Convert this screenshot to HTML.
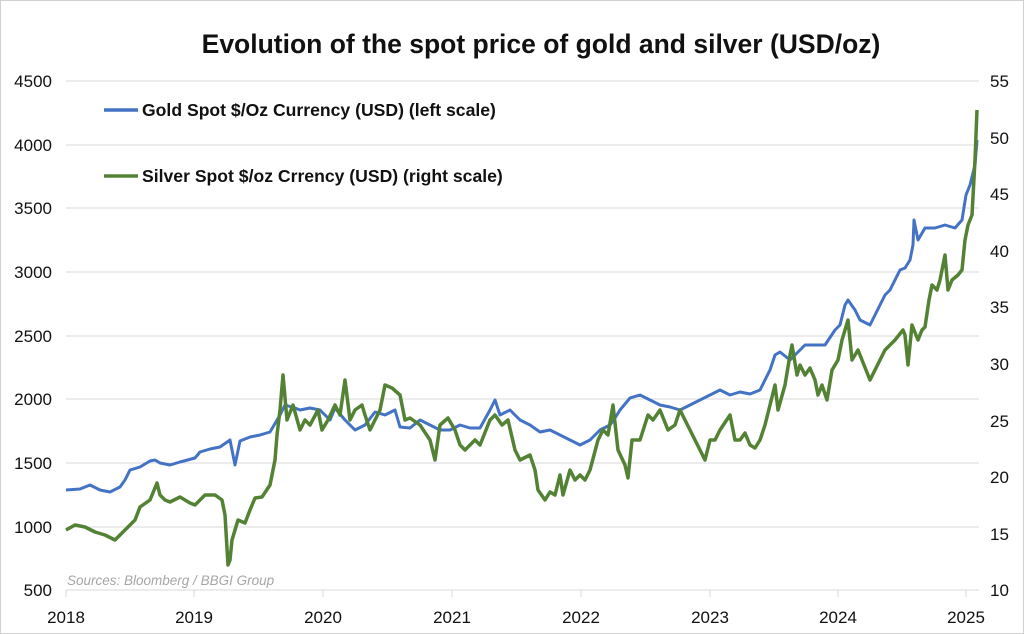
<!DOCTYPE html>
<html><head><meta charset="utf-8"><style>
html,body{margin:0;padding:0;background:#fff}
svg{display:block}
text{font-family:"Liberation Sans",sans-serif;fill:#111}
</style></head><body>
<svg width="1024" height="634" viewBox="0 0 1024 634">
<rect x="0.5" y="0.5" width="1023" height="633" fill="#fff" stroke="#d0d0d0"/>
<text x="541" y="53" font-size="26.5" font-weight="bold" text-anchor="middle">Evolution of the spot price of gold and silver (USD/oz)</text>
<g stroke="#d9d9d9" stroke-width="1">
<line x1="66" x2="979" y1="81" y2="81"/><line x1="66" x2="979" y1="145" y2="145"/>
<line x1="66" x2="979" y1="208" y2="208"/><line x1="66" x2="979" y1="272" y2="272"/>
<line x1="66" x2="979" y1="336" y2="336"/><line x1="66" x2="979" y1="399" y2="399"/>
<line x1="66" x2="979" y1="463" y2="463"/><line x1="66" x2="979" y1="527" y2="527"/>
<line x1="66" x2="979" y1="590" y2="590"/>
<line x1="66" x2="66" y1="590" y2="597"/><line x1="194" x2="194" y1="590" y2="597"/>
<line x1="323" x2="323" y1="590" y2="597"/><line x1="452" x2="452" y1="590" y2="597"/>
<line x1="581" x2="581" y1="590" y2="597"/><line x1="710" x2="710" y1="590" y2="597"/>
<line x1="838" x2="838" y1="590" y2="597"/><line x1="966" x2="966" y1="590" y2="597"/>
</g>
<g font-size="17" text-anchor="end">
<text x="52" y="87">4500</text><text x="52" y="151">4000</text><text x="52" y="214">3500</text>
<text x="52" y="278">3000</text><text x="52" y="342">2500</text><text x="52" y="405">2000</text>
<text x="52" y="469">1500</text><text x="52" y="533">1000</text><text x="52" y="596">500</text>
</g>
<g font-size="17">
<text x="990" y="87">55</text><text x="990" y="144">50</text><text x="990" y="200">45</text>
<text x="990" y="257">40</text><text x="990" y="313">35</text><text x="990" y="370">30</text>
<text x="990" y="427">25</text><text x="990" y="483">20</text><text x="990" y="540">15</text>
<text x="990" y="596">10</text>
</g>
<g font-size="17" text-anchor="middle">
<text x="66" y="623">2018</text><text x="194" y="623">2019</text><text x="323" y="623">2020</text>
<text x="452" y="623">2021</text><text x="581" y="623">2022</text><text x="710" y="623">2023</text>
<text x="838" y="623">2024</text><text x="966" y="623">2025</text>
</g>
<text x="67" y="585" font-size="13.5" font-style="italic" style="fill:#a6a6a6">Sources: Bloomberg / BBGI Group</text>
<polyline fill="none" stroke="#4472c4" stroke-width="3" stroke-linejoin="round" points="66,490 80,489 90,485 100,490 110,492 120,487 125,480 130,470 140,467 150,461 155,460 160,463 170,465 180,462 195,458 200,452 210,449 220,447 230,440 235,465 240,441 250,437 260,435 270,432 280,415 285,405 295,408 300,410 310,408 320,410 330,420 335,408 345,420 355,430 365,425 375,412 385,415 395,410 400,427 410,428 420,420 430,425 440,430 450,430 460,425 470,428 480,428 490,410 495,400 500,415 510,410 520,420 530,425 540,432 550,430 560,435 570,440 580,445 590,440 600,430 610,425 615,418 620,410 630,398 640,395 650,400 660,405 670,407 680,410 690,405 700,400 710,395 720,390 730,395 740,392 750,394 760,390 770,370 775,355 780,352 790,360 800,350 805,345 815,345 825,345 835,330 840,325 845,305 848,300 855,310 860,320 870,325 880,305 885,295 890,290 895,280 900,270 905,268 910,260 913,245 914,220 918,240 925,228 935,228 945,225 955,228 962,220 966,195 970,185 975,165 977,140"/>
<polyline fill="none" stroke="#548235" stroke-width="3.5" stroke-linejoin="round" points="66,530 75,525 85,527 95,532 105,535 115,540 125,530 135,520 140,507 150,500 157,483 160,495 165,500 170,502 180,497 190,503 195,505 200,500 205,495 215,495 222,500 225,515 228,565 230,560 232,540 238,520 245,523 250,510 255,498 262,497 270,485 275,460 277,435 280,410 283,375 287,420 293,405 300,430 305,420 310,425 318,410 322,430 328,420 335,405 340,415 345,380 350,420 355,410 362,405 365,415 370,430 375,420 380,410 385,385 392,388 400,395 405,420 410,418 420,425 430,440 435,460 440,425 448,418 455,430 460,445 465,450 475,440 480,445 490,420 495,415 502,425 508,420 515,450 520,460 530,455 535,470 538,490 545,500 550,492 555,495 560,475 563,495 570,470 575,480 580,475 585,480 590,470 598,440 603,430 608,435 613,405 618,450 625,465 628,478 632,440 640,440 648,415 653,420 660,410 668,430 675,425 680,410 690,430 695,440 700,450 705,460 710,440 715,440 720,430 730,415 735,440 740,440 745,433 750,445 755,448 760,440 765,425 770,405 775,385 778,410 785,385 790,355 792,345 797,375 800,365 805,375 810,368 815,380 818,395 822,385 827,400 832,370 838,360 842,340 848,320 852,360 858,350 862,360 870,380 875,370 880,360 885,350 890,345 895,340 903,330 905,335 908,365 912,325 918,340 922,330 925,327 929,300 932,285 937,290 940,280 945,255 948,290 952,280 958,275 962,270 965,240 968,225 972,215 975,160 977,110"/>
<line x1="104" x2="138" y1="110" y2="110" stroke="#4472c4" stroke-width="3.5"/>
<text x="142" y="116" font-size="17.6" font-weight="bold">Gold Spot $/Oz Currency (USD) (left scale)</text>
<line x1="104" x2="138" y1="176" y2="176" stroke="#548235" stroke-width="3.5"/>
<text x="142" y="182" font-size="17.6" font-weight="bold">Silver Spot $/oz Crrency (USD) (right scale)</text>
</svg>
</body></html>
